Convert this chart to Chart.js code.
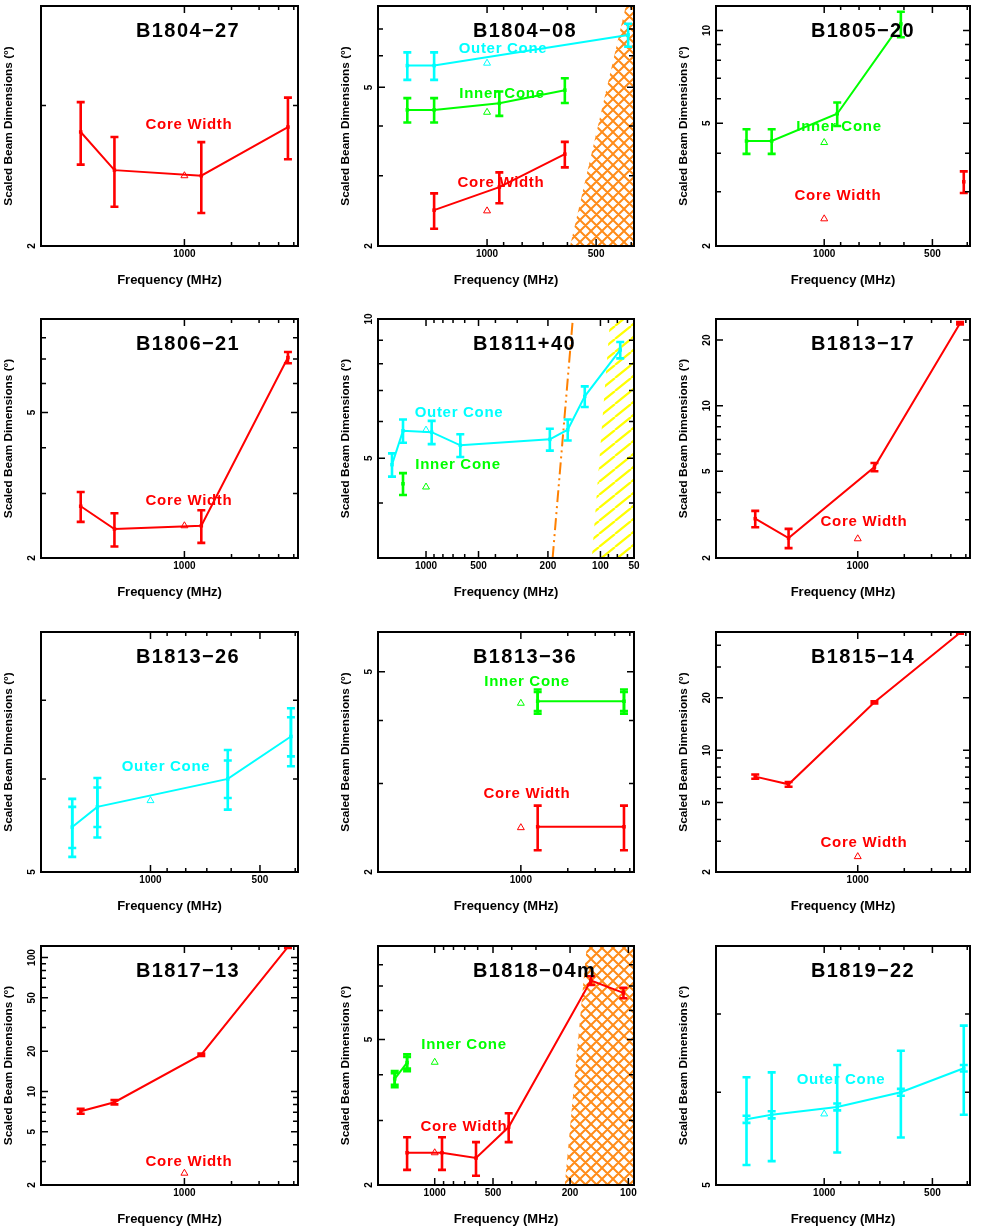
<!DOCTYPE html>
<html>
<head>
<meta charset="utf-8">
<script src="https://cdn.jsdelivr.net/npm/chart.js@4.4.1/dist/chart.umd.min.js"></script>
<style>
  body { margin: 0; background: #fff; }
  #page { position: relative; width: 981px; height: 1226px; overflow: hidden; background: #fff; }
  #page canvas { position: absolute; }
</style>
</head>
<body>
<div id="page"></div>
<script>
// ------------------ DATA ------------------
// model values at 1 GHz (open triangles)
const MODEL_FREQ = 1000;
const MODEL_CORE = 2.45, MODEL_INNER = 4.33, MODEL_OUTER = 5.75;

// x-axis ticks (MHz) for the three axis layouts
const TICKS_A = { major: [1000], minor: [500, 333.3, 250, 200] };
const TICKS_B = { major: [1000, 500], minor: [900, 800, 700, 600, 400] };
const TICKS_C = { major: [1000, 500, 200, 100], minor: [900, 800, 700, 600, 400, 300, 90, 80, 70] };

const FREQ_A = [4600, 2800, 780, 218];

// B1804-27
const b1804m27Core = [2.78, 2.49, 2.45, 2.82];
const b1804m27CoreErr = [0.25, 0.25, 0.25, 0.25];

// B1804-08
const b1804m08OuterFreq = [1660, 1400, 408];
const b1804m08Outer = [5.67, 5.67, 6.77];
const b1804m08OuterErr = [0.45, 0.45, 0.45];
const b1804m08InnerFreq = [1660, 1400, 925, 610];
const b1804m08Inner = [4.39, 4.39, 4.56, 4.92];
const b1804m08InnerErr = [0.31, 0.31, 0.32, 0.35];
const b1804m08CoreFreq = [1400, 925, 610];
const b1804m08Core = [2.46, 2.81, 3.40];
const b1804m08CoreErr = [0.25, 0.25, 0.25];
const b1804m08HatchFreq = [590, 414];
const b1804m08HatchY = [2, 8];

// B1805-20
const b1805m20InnerFreq = [1645, 1400, 920, 612];
const b1805m20Inner = [4.38, 4.38, 5.37, 10.5];
const b1805m20InnerErr = [0.4, 0.4, 0.47, 1.0];
const b1805m20CoreFreq = [409];
const b1805m20Core = [3.23];
const b1805m20CoreErr = [0.26];

// B1806-21
const b1806m21Core = [2.77, 2.40, 2.45, 7.06];
const b1806m21CoreErr = [0.26, 0.25, 0.25, 0.25];

// B1811+40
const b1811p40OuterFreq = [1567, 1355, 928, 636, 195, 154, 123, 77];
const b1811p40Outer = [4.84, 5.73, 5.69, 5.33, 5.49, 5.76, 6.80, 8.57];
const b1811p40OuterErr = [0.28, 0.33, 0.33, 0.3, 0.3, 0.3, 0.35, 0.35];
const b1811p40InnerFreq = [1355];
const b1811p40Inner = [4.40];
const b1811p40InnerErr = [0.24];
const b1811p40CutFreq = [188, 144];
const b1811p40CutY = [3.04, 10];
const b1811p40HatchFreq = [112, 88];
const b1811p40HatchY = [3.04, 10];

// B1813-17
const b1813m17Core = [3.03, 2.47, 5.23, 23.9];
const b1813m17CoreErr = [0.26, 0.25, 0.23, 0.3];

// B1813-26
const b1813m26Freq = [1641, 1400, 613, 411];
const b1813m26Outer = [5.46, 5.68, 6.00, 6.52];
const b1813m26OuterErr = [0.31, 0.33, 0.35, 0.37];
const b1813m26OuterErr2 = [0.22, 0.22, 0.22, 0.25];

// B1813-36
const b1813m36Freq = [780, 218];
const b1813m36Inner = [4.37, 4.37];
const b1813m36InnerErr = [0.24, 0.24];
const b1813m36InnerErr2 = [0.19, 0.19];
const b1813m36Core = [2.46, 2.46];
const b1813m36CoreErr = [0.25, 0.25];

// B1815-14
const b1815m14Core = [7.05, 6.37, 18.8, 47.1];
const b1815m14CoreErr = [0.2, 0.2, 0.25, 0.5];

// B1817-13
const b1817m13Core = [7.11, 8.31, 18.8, 120];
const b1817m13CoreErr = [0.3, 0.3, 0.4, 2];

// B1818-04m
const b1818m04InnerFreq = [1609, 1389];
const b1818m04Inner = [3.90, 4.32];
const b1818m04InnerErr = [0.2, 0.23];
const b1818m04InnerErr2 = [0.14, 0.16];
const b1818m04CoreFreq = [1389, 917, 612, 415, 156, 106];
const b1818m04Core = [2.45, 2.45, 2.37, 2.88, 7.24, 6.70];
const b1818m04CoreErr = [0.25, 0.25, 0.25, 0.26, 0.2, 0.22];
const b1818m04HatchFreq = [213, 164];
const b1818m04HatchY = [2, 9];

// B1819-22
const b1819m22Freq = [1645, 1400, 920, 612, 409];
const b1819m22Outer = [5.69, 5.74, 5.83, 6.00, 6.29];
const b1819m22OuterErr = [0.49, 0.5, 0.5, 0.51, 0.55];
const b1819m22OuterErr2 = [0.04, 0.04, 0.04, 0.04, 0.04];

// ------------------ STYLE / LAYOUT ------------------
const RED = '#ff0000', GREEN = '#00ff00', CYAN = '#00ffff';
const ORANGE = '#ff8000', HATCH_ORANGE = '#ff8c1a', YELLOW = '#ffff00';
const FONT = '"Liberation Sans", Arial, sans-serif';

const CELL_W = 327;
const ROW_TOP = [0, 300, 615, 926];
const ROW_H = [300, 315, 311, 300];
const PLOT_LEFT = [41, 51, 62];
const PLOT_RIGHT = [298, 307, 316];
const PLOT_TOP = [6, 19, 17, 20];
const PLOT_BOTTOM = [246, 258, 257, 259];

const X_A = [188, 8250];
const X_B = [393, 2000];

function pts(freq, vals) {
    return freq.map((f, i) => ({ x: f, y: vals[i] }));
}

function crossHatch(color) {
    const s = 11;
    const c = document.createElement('canvas');
    c.width = s; c.height = s;
    const g = c.getContext('2d');
    g.strokeStyle = color;
    g.lineWidth = 2;
    g.beginPath();
    for (let k = -1; k <= 1; k++) {
        g.moveTo(-s, -s + k * s); g.lineTo(2 * s, 2 * s + k * s);
        g.moveTo(-s, 2 * s + k * s); g.lineTo(2 * s, -s + k * s);
    }
    g.stroke();
    return g.createPattern(c, 'repeat');
}

function lineHatch(color) {
    const w = 16, h = 13;
    const c = document.createElement('canvas');
    c.width = w; c.height = h;
    const g = c.getContext('2d');
    g.strokeStyle = color;
    g.lineWidth = 2.2;
    g.beginPath();
    for (let k = -1; k <= 1; k++) {
        g.moveTo(k * w, h); g.lineTo(k * w + w, 0);
    }
    g.stroke();
    return g.createPattern(c, 'repeat');
}

function lineSet(color, freq, vals, errs, errs2) {
    return {
        data: pts(freq, vals), showLine: true, fill: false,
        borderColor: color, backgroundColor: color, borderWidth: 2,
        pointStyle: 'rect', pointRadius: 2.5, pointBorderWidth: 0,
        pointBackgroundColor: color, errs: errs, errs2: errs2, order: 1
    };
}

function modelSet(color, val) {
    return {
        data: [{ x: MODEL_FREQ, y: val }], showLine: false, fill: false,
        pointStyle: 'triangle', pointRadius: 4, pointBorderWidth: 1,
        pointBorderColor: color, pointBackgroundColor: 'rgba(0,0,0,0)',
        borderColor: color, order: 0
    };
}

function hatchSet(freq, vals, xLow, pattern) {
    const data = pts(freq, vals);
    data.push({ x: xLow, y: vals[vals.length - 1] });
    return {
        data: data, showLine: true, fill: 'start', borderWidth: 0,
        borderColor: 'rgba(0,0,0,0)', backgroundColor: pattern,
        pointRadius: 0, order: 9
    };
}

function cutSet(freq, vals) {
    return {
        data: pts(freq, vals), showLine: true, fill: false,
        borderColor: ORANGE, borderWidth: 2, borderDash: [12, 4, 2, 4, 2, 4],
        pointRadius: 0, order: 8
    };
}

// ------------------ PANELS ------------------
const panels = [
    { name: 'B1804\u221227', row: 0, col: 0, xr: X_A, yr: [2, 4], ticks: TICKS_A,
      sets: [lineSet(RED, FREQ_A, b1804m27Core, b1804m27CoreErr), modelSet(RED, MODEL_CORE)],
      labels: [['Core Width', RED, 148, 119]] },
    { name: 'B1804\u221208', row: 0, col: 1, xr: X_B, yr: [2, 8], ticks: TICKS_B,
      sets: [
        lineSet(CYAN, b1804m08OuterFreq, b1804m08Outer, b1804m08OuterErr),
        lineSet(GREEN, b1804m08InnerFreq, b1804m08Inner, b1804m08InnerErr),
        lineSet(RED, b1804m08CoreFreq, b1804m08Core, b1804m08CoreErr),
        modelSet(CYAN, MODEL_OUTER), modelSet(GREEN, MODEL_INNER), modelSet(RED, MODEL_CORE),
        hatchSet(b1804m08HatchFreq, b1804m08HatchY, 300, crossHatch(HATCH_ORANGE))],
      labels: [['Outer Cone', CYAN, 125, 43], ['Inner Cone', GREEN, 124, 88], ['Core Width', RED, 123, 177]] },
    { name: 'B1805\u221220', row: 0, col: 2, xr: X_B, yr: [2, 12], ticks: TICKS_B,
      sets: [
        lineSet(GREEN, b1805m20InnerFreq, b1805m20Inner, b1805m20InnerErr),
        lineSet(RED, b1805m20CoreFreq, b1805m20Core, b1805m20CoreErr),
        modelSet(GREEN, MODEL_INNER), modelSet(RED, MODEL_CORE)],
      labels: [['Inner Cone', GREEN, 123, 121], ['Core Width', RED, 122, 190]] },
    { name: 'B1806\u221221', row: 1, col: 0, xr: X_A, yr: [2, 9], ticks: TICKS_A,
      sets: [lineSet(RED, FREQ_A, b1806m21Core, b1806m21CoreErr), modelSet(RED, MODEL_CORE)],
      labels: [['Core Width', RED, 148, 182]] },
    { name: 'B1811+40', row: 1, col: 1, xr: [64.2, 1885], yr: [3.04, 10], ticks: TICKS_C, edgeLabel: '50',
      sets: [
        lineSet(CYAN, b1811p40OuterFreq, b1811p40Outer, b1811p40OuterErr),
        lineSet(GREEN, b1811p40InnerFreq, b1811p40Inner, b1811p40InnerErr),
        modelSet(CYAN, MODEL_OUTER), modelSet(GREEN, MODEL_INNER),
        cutSet(b1811p40CutFreq, b1811p40CutY),
        hatchSet(b1811p40HatchFreq, b1811p40HatchY, 30, lineHatch(YELLOW))],
      labels: [['Outer Cone', CYAN, 81, 94], ['Inner Cone', GREEN, 80, 146]] },
    { name: 'B1813\u221217', row: 1, col: 2, xr: X_A, yr: [2, 25], ticks: TICKS_A,
      sets: [lineSet(RED, FREQ_A, b1813m17Core, b1813m17CoreErr), modelSet(RED, MODEL_CORE)],
      labels: [['Core Width', RED, 148, 203]] },
    { name: 'B1813\u221226', row: 2, col: 0, xr: X_B, yr: [5, 8], ticks: TICKS_B,
      sets: [lineSet(CYAN, b1813m26Freq, b1813m26Outer, b1813m26OuterErr, b1813m26OuterErr2), modelSet(CYAN, MODEL_OUTER)],
      labels: [['Outer Cone', CYAN, 125, 135]] },
    { name: 'B1813\u221236', row: 2, col: 1, xr: X_A, yr: [2, 6], ticks: TICKS_A,
      sets: [
        lineSet(GREEN, b1813m36Freq, b1813m36Inner, b1813m36InnerErr, b1813m36InnerErr2),
        lineSet(RED, b1813m36Freq, b1813m36Core, b1813m36CoreErr),
        modelSet(GREEN, MODEL_INNER), modelSet(RED, MODEL_CORE)],
      labels: [['Inner Cone', GREEN, 149, 50], ['Core Width', RED, 149, 162]] },
    { name: 'B1815\u221214', row: 2, col: 2, xr: X_A, yr: [2, 47.6], ticks: TICKS_A,
      sets: [lineSet(RED, FREQ_A, b1815m14Core, b1815m14CoreErr), modelSet(RED, MODEL_CORE)],
      labels: [['Core Width', RED, 148, 211]] },
    { name: 'B1817\u221213', row: 3, col: 0, xr: X_A, yr: [2, 122], ticks: TICKS_A,
      sets: [lineSet(RED, FREQ_A, b1817m13Core, b1817m13CoreErr), modelSet(RED, MODEL_CORE)],
      labels: [['Core Width', RED, 148, 216]] },
    { name: 'B1818\u221204m', row: 3, col: 1, xr: [93.5, 1963], yr: [2, 9], ticks: TICKS_C,
      sets: [
        lineSet(GREEN, b1818m04InnerFreq, b1818m04Inner, b1818m04InnerErr, b1818m04InnerErr2),
        lineSet(RED, b1818m04CoreFreq, b1818m04Core, b1818m04CoreErr),
        modelSet(GREEN, MODEL_INNER), modelSet(RED, MODEL_CORE),
        hatchSet(b1818m04HatchFreq, b1818m04HatchY, 50, crossHatch(HATCH_ORANGE))],
      labels: [['Inner Cone', GREEN, 86, 99], ['Core Width', RED, 86, 181]] },
    { name: 'B1819\u221222', row: 3, col: 2, xr: X_B, yr: [5, 8], ticks: TICKS_B,
      sets: [lineSet(CYAN, b1819m22Freq, b1819m22Outer, b1819m22OuterErr, b1819m22OuterErr2), modelSet(CYAN, MODEL_OUTER)],
      labels: [['Outer Cone', CYAN, 125, 134]] }
];

// ------------------ PLUGINS ------------------
function yTicks(min, max) {
    const out = [];
    for (let d = Math.floor(Math.log10(min)); d <= Math.ceil(Math.log10(max)); d++) {
        for (let m = 1; m <= 9; m++) {
            const v = m * Math.pow(10, d);
            if (v >= min * 0.999 && v <= max * 1.001) out.push({ v: v, major: m === 1 || m === 2 || m === 5 });
        }
    }
    return out;
}

const errorBars = {
    id: 'errorBars',
    afterDatasetsDraw(chart) {
        const { ctx, chartArea: a, scales: { x, y } } = chart;
        ctx.save();
        ctx.beginPath();
        ctx.rect(a.left, a.top - 1, a.width, a.height + 2);
        ctx.clip();
        chart.data.datasets.forEach(ds => {
            if (!ds.errs) return;
            ctx.strokeStyle = ds.borderColor;
            ctx.lineWidth = 2.6;
            ds.data.forEach((p, j) => {
                [ds.errs, ds.errs2].forEach(list => {
                    if (!list) return;
                    const px = x.getPixelForValue(p.x);
                    const top = y.getPixelForValue(p.y + list[j]);
                    const bot = y.getPixelForValue(p.y - list[j]);
                    ctx.beginPath();
                    ctx.moveTo(px, top); ctx.lineTo(px, bot);
                    ctx.moveTo(px - 4, top); ctx.lineTo(px + 4, top);
                    ctx.moveTo(px - 4, bot); ctx.lineTo(px + 4, bot);
                    ctx.stroke();
                });
            });
        });
        ctx.restore();
    }
};

function framePlugin(p) {
    return {
        id: 'pgframe',
        afterDraw(chart) {
            const { ctx, chartArea: a, scales: { x, y } } = chart;
            ctx.save();
            ctx.strokeStyle = '#000';
            ctx.fillStyle = '#000';

            // y ticks + rotated labels
            ctx.lineWidth = 1.5;
            ctx.font = 'bold 10px ' + FONT;
            yTicks(p.yr[0], p.yr[1]).forEach(t => {
                const py = y.getPixelForValue(t.v);
                const len = t.major ? 7 : 5;
                ctx.beginPath();
                ctx.moveTo(a.left, py); ctx.lineTo(a.left + len, py);
                ctx.moveTo(a.right, py); ctx.lineTo(a.right - len, py);
                ctx.stroke();
                if (t.major) {
                    ctx.save();
                    ctx.translate(a.left - 9, py);
                    ctx.rotate(-Math.PI / 2);
                    ctx.textAlign = 'center';
                    ctx.textBaseline = 'middle';
                    ctx.fillText(String(Math.round(t.v)), 0, 0);
                    ctx.restore();
                }
            });

            // x ticks + labels
            ctx.textAlign = 'center';
            ctx.textBaseline = 'middle';
            const inRange = v => v >= p.xr[0] && v <= p.xr[1];
            p.ticks.major.filter(inRange).forEach(v => {
                const px = x.getPixelForValue(v);
                ctx.beginPath();
                ctx.moveTo(px, a.bottom); ctx.lineTo(px, a.bottom - 7);
                ctx.moveTo(px, a.top); ctx.lineTo(px, a.top + 7);
                ctx.stroke();
                ctx.fillText(String(v), px, a.bottom + 8.5);
            });
            p.ticks.minor.filter(inRange).forEach(v => {
                const px = x.getPixelForValue(v);
                ctx.beginPath();
                ctx.moveTo(px, a.bottom); ctx.lineTo(px, a.bottom - 4);
                ctx.moveTo(px, a.top); ctx.lineTo(px, a.top + 4);
                ctx.stroke();
            });
            if (p.edgeLabel) ctx.fillText(p.edgeLabel, a.right, a.bottom + 8.5);

            // frame
            ctx.lineWidth = 2;
            ctx.strokeRect(a.left, a.top, a.width, a.height);

            // axis titles
            ctx.font = 'bold 13px ' + FONT;
            ctx.fillText('Frequency (MHz)', (a.left + a.right) / 2, a.bottom + 34);
            ctx.save();
            ctx.font = 'bold 11.8px ' + FONT;
            ctx.translate(a.left - 32, (a.top + a.bottom) / 2);
            ctx.rotate(-Math.PI / 2);
            ctx.fillText('Scaled Beam Dimensions (\u00b0)', 0, 0);
            ctx.restore();

            // panel title
            ctx.font = 'bold 20px ' + FONT;
            ctx.letterSpacing = '1.4px';
            ctx.textAlign = 'left';
            ctx.fillText(p.name, a.left + 95, a.top + 25);

            // component labels
            ctx.font = 'bold 15px ' + FONT;
            ctx.letterSpacing = '0.7px';
            ctx.textAlign = 'center';
            p.labels.forEach(l => {
                ctx.fillStyle = l[1];
                ctx.fillText(l[0], a.left + l[2], a.top + l[3]);
            });
            ctx.restore();
        }
    };
}

// ------------------ BUILD ------------------
const page = document.getElementById('page');
panels.forEach(p => {
    const w = CELL_W, h = ROW_H[p.row];
    const cv = document.createElement('canvas');
    cv.width = w; cv.height = h;
    cv.style.left = (p.col * CELL_W) + 'px';
    cv.style.top = ROW_TOP[p.row] + 'px';
    cv.style.width = w + 'px';
    cv.style.height = h + 'px';
    page.appendChild(cv);

    new Chart(cv, {
        type: 'line',
        data: { datasets: p.sets },
        options: {
            responsive: false,
            animation: false,
            devicePixelRatio: 1,
            layout: {
                padding: {
                    left: PLOT_LEFT[p.col],
                    right: CELL_W - PLOT_RIGHT[p.col],
                    top: PLOT_TOP[p.row],
                    bottom: h - PLOT_BOTTOM[p.row]
                }
            },
            scales: {
                x: { type: 'logarithmic', display: false, reverse: true, min: p.xr[0], max: p.xr[1] },
                y: { type: 'logarithmic', display: false, min: p.yr[0], max: p.yr[1] }
            },
            elements: { line: { tension: 0 } },
            plugins: { legend: { display: false }, tooltip: { enabled: false } }
        },
        plugins: [errorBars, framePlugin(p)]
    });
});
</script>
</body>
</html>
